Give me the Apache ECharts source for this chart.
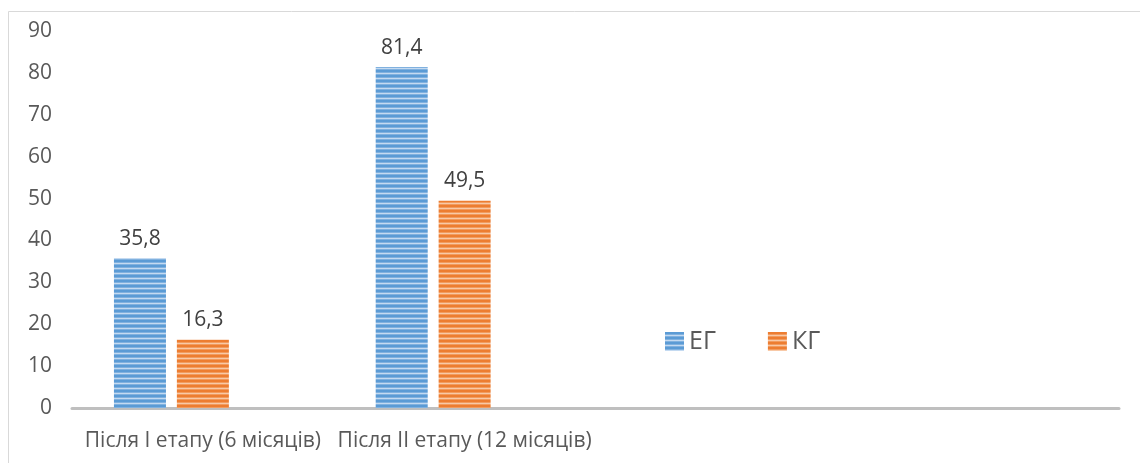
<!DOCTYPE html>
<html>
<head>
<meta charset="utf-8">
<script src="https://cdn.jsdelivr.net/npm/echarts@6/dist/echarts.min.js"></script>
<style>
  html, body { margin: 0; padding: 0; background: #ffffff; }
  #chart { width: 1140px; height: 463px; }
</style>
</head>
<body>
<div id="chart"></div>
<script>
// Categories along the x axis (the last two slots are left empty)
const categories = ['Після І етапу (6 місяців)', 'Після ІІ етапу (12 місяців)', '', ''];
// Series values, in percent
const egValues = [35.8, 81.4, null, null];
const kgValues = [16.3, 49.5, null, null];
// Reserved third slot in each group (no data)
const spareValues = [null, null, null, null];
const seriesNames = ['ЕГ', 'КГ'];
// Value axis ticks
const yMin = 0, yMax = 90, yStep = 10;

// Horizontal-stripe fill built on a small canvas tile
function stripes(rows) {
  const c = document.createElement('canvas');
  c.width = 8; c.height = rows.length;
  const ctx = c.getContext('2d');
  rows.forEach((col, i) => { ctx.fillStyle = col; ctx.fillRect(0, i, 8, 1); });
  return { image: c, repeat: 'repeat' };
}
const blueFill = stripes(['#5b9bd5', '#5b9bd5', '#80b1df', '#c4daf1', '#80b1df']);
const orangeFill = stripes(['#ed7d31', '#ed7d31', '#f29b5e', '#f8c9a7', '#f29b5e']);

const fmt = p => String(p.value).replace('.', ',');
const font = '"Open Sans", "DejaVu Sans", sans-serif';

const chart = echarts.init(document.getElementById('chart'));
chart.setOption({
  animation: false,
  backgroundColor: '#ffffff',
  graphic: [{
    type: 'rect', silent: true, z: -1,
    shape: { x: 8.5, y: 11.5, width: 1200, height: 500 },
    style: { fill: 'none', stroke: '#d9d9d9', lineWidth: 1 }
  }],
  grid: { left: 72, right: 21, top: 31, bottom: 55, containLabel: false },
  legend: {
    data: seriesNames,
    left: 660, top: 324,
    itemWidth: 19, itemHeight: 19, itemGap: 52,
    icon: 'rect',
    textStyle: { fontFamily: font, fontSize: 25, color: '#595959', padding: [0, 0, 0, 0] }
  },
  xAxis: {
    type: 'category',
    data: categories,
    axisLine: { lineStyle: { color: '#bfbfbf', width: 3 } },
    axisTick: { show: false },
    axisLabel: { fontFamily: font, fontSize: 21, color: '#595959', margin: 23, interval: 0 }
  },
  yAxis: {
    type: 'value',
    min: yMin, max: yMax, interval: yStep,
    axisLine: { show: false },
    axisTick: { show: false },
    splitLine: { show: false },
    axisLabel: { fontFamily: font, fontSize: 21, color: '#595959', margin: 20 }
  },
  series: [
    {
      name: seriesNames[0], type: 'bar', data: egValues,
      barWidth: 52, barGap: '21%',
      itemStyle: { color: blueFill },
      label: { show: true, position: 'top', distance: 9, formatter: fmt,
               fontFamily: font, fontSize: 21, color: '#404040' }
    },
    {
      name: seriesNames[1], type: 'bar', data: kgValues,
      barWidth: 52, barGap: '21%',
      itemStyle: { color: orangeFill },
      label: { show: true, position: 'top', distance: 9, formatter: fmt,
               fontFamily: font, fontSize: 21, color: '#404040' }
    },
    {
      name: 'spare', type: 'bar', data: spareValues,
      barWidth: 52, barGap: '21%', silent: true
    }
  ]
});
</script>
</body>
</html>
